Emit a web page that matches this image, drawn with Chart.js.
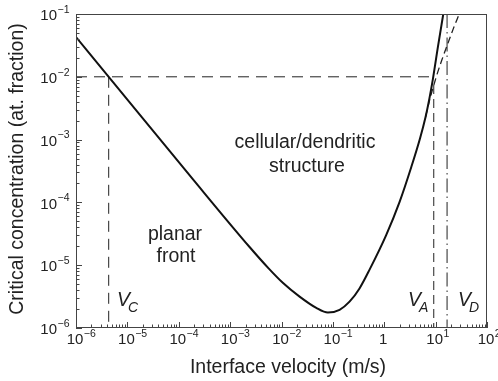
<!DOCTYPE html>
<html>
<head>
<meta charset="utf-8">
<script src="https://cdn.jsdelivr.net/npm/chart.js@4"></script>
<style>
  body { margin: 0; background: #fff; }
</style>
</head>
<body>
<canvas id="grafico" width="498" height="381"></canvas>
<script>
// curva crítica
const velocidade = [1e-6, 4.33e-6, 1.86e-4, 2.39e-3, 5.61e-3, 1.06e-2, 2.25e-2, 4.75e-2, 8.0e-2, 0.135, 0.211, 0.330, 0.518, 1.09, 1.99, 3.35, 4.98, 6.37, 7.59, 8.83, 11.1, 14.1];
const concentracao = [4.3e-2, 1.0e-2, 2.37e-4, 1.95e-5, 8.91e-6, 5.25e-6, 3.16e-6, 2.09e-6, 1.76e-6, 1.95e-6, 2.63e-6, 4.27e-6, 8.51e-6, 3.02e-5, 1.02e-4, 3.63e-4, 1.05e-3, 2.29e-3, 4.57e-3, 9.12e-3, 3.02e-2, 0.1];

// continuação tracejada
const velocidadeTracejada = [6.37, 7.59, 10.3, 13.0, 17.3, 22.3, 28.8];
const concentracaoTracejada = [2.29e-3, 4.17e-3, 1.0e-2, 1.78e-2, 3.39e-2, 5.96e-2, 0.1];

// linhas de referência
const concRef = 1e-2;
const vC = 4.33e-6;
const vA = 9.2;
const vD = 16.7;
const topoVA = 7.4e-3;

// ticks
const xTickValores = [1e-6, 1e-5, 1e-4, 1e-3, 1e-2, 1e-1, 1, 1e1, 1e2];
const xTickLabels = [['10', '\u22126'], ['10', '\u22125'], ['10', '\u22124'], ['10', '\u22123'], ['10', '\u22122'], ['10', '\u22121'], ['1', ''], ['10', '1'], ['10', '2']];
const yTickValores = [1e-6, 1e-5, 1e-4, 1e-3, 1e-2, 1e-1];
const yTickLabels = [['10', '\u22126'], ['10', '\u22125'], ['10', '\u22124'], ['10', '\u22123'], ['10', '\u22122'], ['10', '\u22121']];

const fonte = '"Liberation Sans", Arial, Helvetica, sans-serif';
const corTexto = '#222';

function pares(xs, ys) {
    return xs.map((x, i) => ({ x: x, y: ys[i] }));
}

function escreverPotencia(ctx, base, exp, x, yBase, yExp, alinhamento) {
    ctx.font = '15px ' + fonte;
    const wb = ctx.measureText(base).width;
    ctx.font = '10.5px ' + fonte;
    const we = exp ? ctx.measureText(exp).width : 0;
    let esq;
    if (alinhamento === 'right') {
        esq = x - wb - we;
    } else {
        esq = x - wb / 2;
    }
    ctx.textAlign = 'left';
    ctx.textBaseline = 'middle';
    ctx.font = '15px ' + fonte;
    ctx.fillText(base, esq, yBase);
    if (exp) {
        ctx.font = '10.5px ' + fonte;
        ctx.fillText(exp, esq + wb + 0.5, yExp);
    }
}

function escreverV(ctx, sub, x, y) {
    ctx.textAlign = 'left';
    ctx.textBaseline = 'alphabetic';
    ctx.font = 'italic 19.5px ' + fonte;
    ctx.fillText('V', x, y);
    ctx.font = 'italic 14px ' + fonte;
    ctx.fillText(sub, x + 11, y + 6);
}

const molduraEixos = {
    id: 'molduraEixos',
    afterDraw(chart) {
        const ctx = chart.ctx;
        const area = chart.chartArea;
        const sx = chart.scales.x;
        const sy = chart.scales.y;
        ctx.save();

        // moldura
        ctx.strokeStyle = '#444';
        ctx.lineWidth = 1;
        ctx.strokeRect(area.left + 0.5, area.top + 0.5, area.right - area.left - 1, area.bottom - area.top - 1);

        // ticks para dentro
        ctx.beginPath();
        for (let e = -6; e <= 2; e++) {
            const px = Math.round(sx.getPixelForValue(Math.pow(10, e))) + 0.5;
            ctx.moveTo(px, area.bottom);
            ctx.lineTo(px, area.bottom - 6);
            if (e < 2) {
                for (let m = 2; m <= 9; m++) {
                    const pm = Math.round(sx.getPixelForValue(m * Math.pow(10, e))) + 0.5;
                    ctx.moveTo(pm, area.bottom);
                    ctx.lineTo(pm, area.bottom - 3.5);
                }
            }
        }
        for (let e = -6; e <= -1; e++) {
            const py = Math.round(sy.getPixelForValue(Math.pow(10, e))) + 0.5;
            ctx.moveTo(area.left, py);
            ctx.lineTo(area.left + 6, py);
            if (e < -1) {
                for (let m = 2; m <= 9; m++) {
                    const pm = Math.round(sy.getPixelForValue(m * Math.pow(10, e))) + 0.5;
                    ctx.moveTo(area.left, pm);
                    ctx.lineTo(area.left + 3.5, pm);
                }
            }
        }
        ctx.stroke();

        // rótulos dos ticks
        ctx.fillStyle = corTexto;
        xTickValores.forEach((v, i) => {
            const px = sx.getPixelForValue(v) - 1;
            escreverPotencia(ctx, xTickLabels[i][0], xTickLabels[i][1], px, 340, 334, 'center');
        });
        yTickValores.forEach((v, i) => {
            const py = sy.getPixelForValue(v);
            escreverPotencia(ctx, yTickLabels[i][0], yTickLabels[i][1], 69, py + 2, py - 4, 'right');
        });

        // títulos dos eixos
        ctx.font = '19.5px ' + fonte;
        ctx.textAlign = 'center';
        ctx.textBaseline = 'middle';
        ctx.fillText('Interface velocity (m/s)', 288, 368);
        ctx.save();
        ctx.translate(18, 169);
        ctx.rotate(-Math.PI / 2);
        ctx.fillText('Critical concentration (at. fraction)', 0, 0);
        ctx.restore();

        // anotações
        ctx.fillText('cellular/dendritic', 305, 143);
        ctx.fillText('structure', 307, 167);
        ctx.fillText('planar', 175, 235);
        ctx.fillText('front', 176, 257);

        escreverV(ctx, 'C', 117, 306);
        escreverV(ctx, 'A', 408, 306);
        escreverV(ctx, 'D', 458, 306);

        ctx.restore();
    }
};

const ctxGrafico = document.getElementById('grafico').getContext('2d');

const graficoCritico = new Chart(ctxGrafico, {
    type: 'line',
    data: {
        datasets: [
            {
                data: pares(velocidade, concentracao),
                borderColor: '#111',
                borderWidth: 2,
                cubicInterpolationMode: 'monotone'
            },
            {
                data: pares(velocidadeTracejada, concentracaoTracejada),
                borderColor: '#222',
                borderWidth: 1.3,
                borderDash: [7, 4],
                cubicInterpolationMode: 'monotone'
            },
            {
                data: [{ x: 1e-6, y: concRef }, { x: 8.8, y: concRef }],
                borderColor: '#222',
                borderWidth: 1,
                borderDash: [11, 7]
            },
            {
                data: [{ x: vC, y: concRef }, { x: vC, y: 1e-6 }],
                borderColor: '#222',
                borderWidth: 1,
                borderDash: [11, 7]
            },
            {
                data: [{ x: vA, y: topoVA }, { x: vA, y: 1e-6 }],
                borderColor: '#222',
                borderWidth: 1,
                borderDash: [9, 5]
            },
            {
                data: [{ x: vD, y: 0.1 }, { x: vD, y: 1e-6 }],
                borderColor: '#222',
                borderWidth: 1,
                borderDash: [14, 4, 1.5, 4]
            }
        ]
    },
    options: {
        responsive: false,
        animation: false,
        events: [],
        layout: { padding: { left: 76, right: 11, top: 14, bottom: 53 } },
        elements: { point: { radius: 0 }, line: { fill: false } },
        plugins: {
            legend: { display: false },
            tooltip: { enabled: false }
        },
        scales: {
            x: {
                type: 'logarithmic',
                min: 1e-6,
                max: 100,
                grid: { display: false, drawTicks: false },
                border: { display: false },
                ticks: { display: false }
            },
            y: {
                type: 'logarithmic',
                min: 1e-6,
                max: 0.1,
                grid: { display: false, drawTicks: false },
                border: { display: false },
                ticks: { display: false }
            }
        }
    },
    plugins: [molduraEixos]
});
</script>
</body>
</html>
